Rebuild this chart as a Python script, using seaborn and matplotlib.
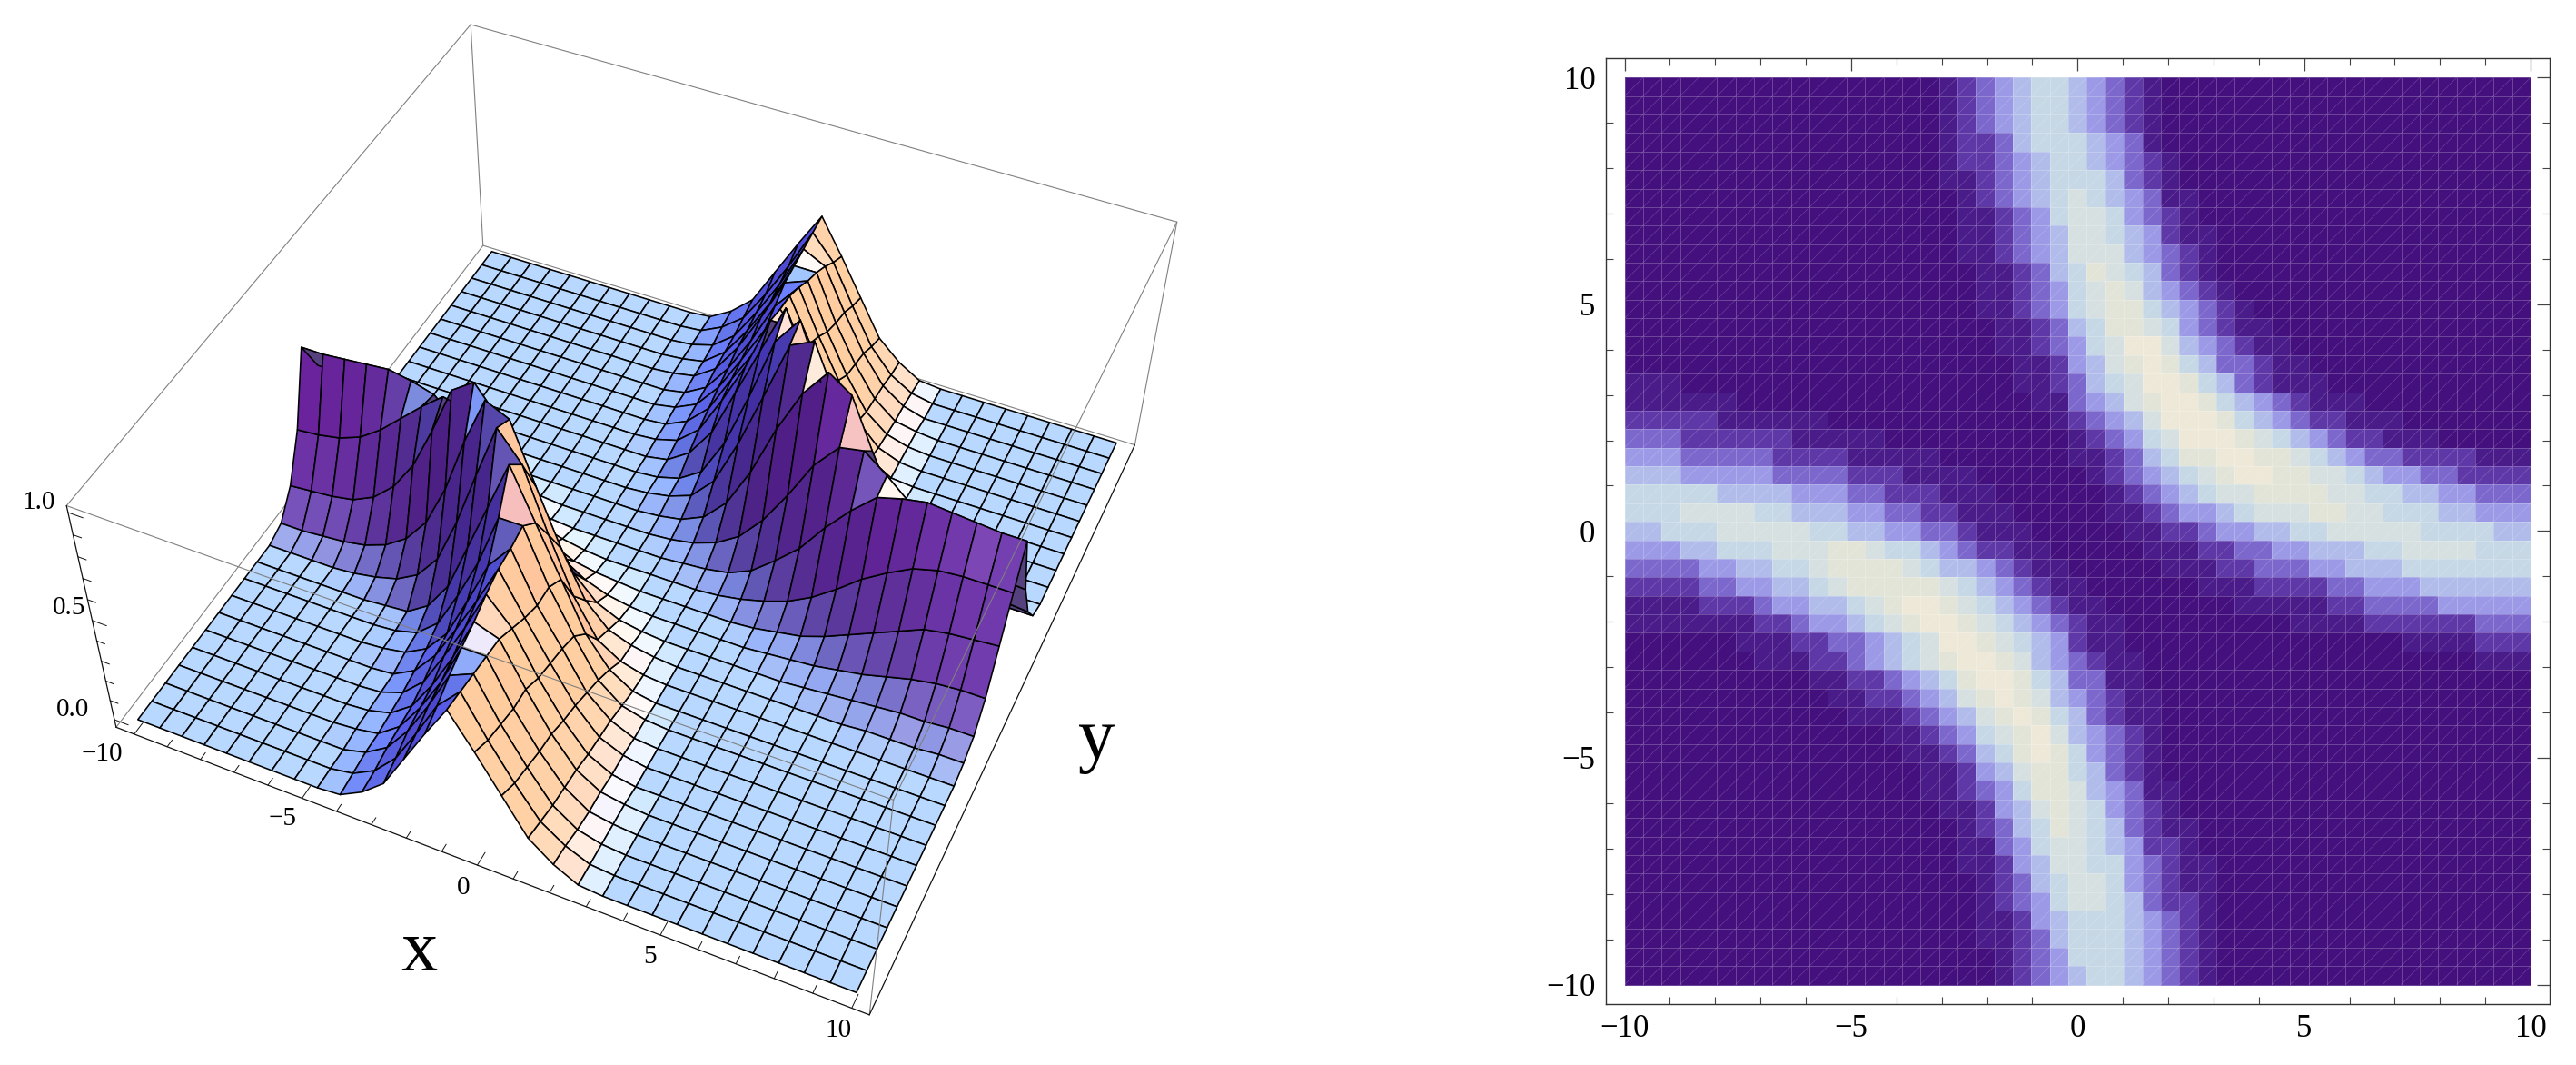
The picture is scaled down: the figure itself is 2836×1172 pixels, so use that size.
import numpy as np
import seaborn as sns
import matplotlib.pyplot as plt
from matplotlib.colors import ListedColormap
from matplotlib.collections import LineCollection
from mpl_toolkits.mplot3d import Axes3D  # noqa

W, H = 2836, 1172

# density plot, one digit per cell, top row is y = 10, left column is x = -10
DENSITY_ROWS = [
    "0000000000 0000000123 4566543210",
    "0000000000 0000000123 4566543210",
    "0000000000 0000000123 4566543210",
    "0000000000 0000000122 3566654310",
    "0000000000 0000000122 3456654321",
    "0000000000 0000000112 3456665321",
    "0000000000 0000000012 3456765431 1",
    "0000000000 0000000011 2346776432 1",
    "0000000000 0000000011 2345776542 11",
    "0000000000 0000000011 2345777543 21",
    "0000000000 0000000001 1235687653 21",
    "0000000000 0000000001 1234678754 321",
    "0000000000 0000000001 1234678865 4321",
    "0000000000 0000000000 1123568876 43211",
    "0000000000 0000000000 1123467997 543211",
    "0000000000 0000000000 0112457898 6533211",
    "1110000000 0000000000 0112356799 8653211100",
    "1111110000 0000000000 0011345789 9865432111",
    "2222211111 1000000000 0001234579 9986543221 11",
    "3332222221 1111000000 0000123467 9998765432 2111",
    "4443333322 2211111000 0000112356 8899887654 332222111",
    "5554444433 3322211110 0000012345 6789988776 544332222",
    "6666655554 4433222111 0000001234 5677888877 665544333",
    "6667777665 5544332211 1000001123 4456777887 766655444",
    "5566677777 6655443321 1100000112 2344556677 777666655",
    "4445566677 7887665432 2110000011 1223344555 667777666",
    "3333445566 7888876554 3211000001 1122333445 556666666",
    "2222334455 6788888765 4321100000 0111222233 444555555",
    "1111222344 5567899876 5432110000 0001111122 333344444",
    "1111111223 4456789987 6543211000 0000001111 222222333",
    "0000001112 2334567998 7654211000 0000000000 001111222",
    "0000000111 2234567899 8754321100 0000000000 000000111",
    "0000000000 1122345689 9865331100",
    "0000000000 0112234578 9875432110",
    "0000000000 0011123457 8986532110",
    "0000000000 0000112346 7897543210",
    "0000000000 0000011235 6898643210",
    "0000000000 0000001124 5788653210",
    "0000000000 0000001123 4688754311",
    "0000000000 0000000112 4578764321",
    "0000000000 0000000012 3568765321 1",
    "0000000000 0000000011 3467765422 1",
    "0000000000 0000000011 2457766432 11",
    "0000000000 0000000001 2356776432 11",
    "0000000000 0000000001 2346776532 21",
    "0000000000 0000000001 1245666543 21",
    "0000000000 0000000001 1235666543 21",
    "0000000000 0000000000 1234666543 21",
    "0000000000 0000000000 1234566543 21",
]
DENSITY_COLORS = ["#44107e", "#4a1c8a", "#5f38a8", "#7c68cc", "#9c9ae6",
                  "#b2bcea", "#c6d8e6", "#d6e0e0", "#e2e4d8", "#eee8d8"]

# surface heights in percent, 31 x 31 mesh, top row is y = 10, trailing zeros left off
SURFACE_PCT = [
    [0,0,0,0,0,0,0,0,0,0,0,1,7,16,33,50,66,50,33,16,7,1],
    [0,0,0,0,0,0,0,0,0,0,0,1,6,14,29,46,65,54,36,19,8,2],
    [0,0,0,0,0,0,0,0,0,0,0,1,4,12,27,44,64,59,40,23,10,3],
    [0,0,0,0,0,0,0,0,0,0,0,1,3,11,25,42,63,63,42,25,11,3,1],
    [0,0,0,0,0,0,0,0,0,0,0,1,3,10,24,42,62,66,45,27,12,4,1],
    [0,0,0,0,0,0,0,0,0,0,0,0,2,8,21,38,58,70,50,32,15,5,1],
    [0,0,0,0,0,0,0,0,0,0,0,0,2,7,19,36,54,73,54,36,19,7,1],
    [0,0,0,0,0,0,0,0,0,0,0,0,1,6,16,34,51,74,62,41,21,9,3,1],
    [0,0,0,0,0,0,0,0,0,0,0,0,1,4,13,31,51,76,76,51,31,13,4,1],
    [0,0,0,0,0,0,0,0,0,0,0,0,0,2,9,23,46,69,92,69,46,23,9,2,1],
    [0,0,0,0,0,0,0,0,0,0,0,0,0,1,4,11,29,55,84,97,72,46,24,12,6,3,1],
    [2,2,1,1,1,0,0,0,0,0,0,0,0,1,3,7,18,40,66,93,98,76,50,30,18,11,7,5,4,3,3],
    [6,6,5,5,4,3,2,1,0,0,0,0,0,0,1,3,8,19,38,62,82,95,88,66,46,32,23,18,16,15,14],
    [16,16,15,13,10,7,5,3,2,1,0,0,0,0,0,1,3,7,14,26,42,60,72,74,66,57,48,41,37,35,34],
    [33,32,31,29,24,19,14,9,5,3,1,0,0,0,0,0,1,2,4,9,18,28,42,54,64,67,69,68,67,66,66],
    [50,50,50,49,46,40,33,24,16,10,6,3,1,0,0,0,0,0,1,3,6,10,16,24,33,40,46,49,50,50,50],
    [66,66,67,68,69,67,64,54,42,28,18,9,4,2,1,0,0,0,0,0,1,3,5,9,14,19,24,29,31,32,33],
    [34,35,37,41,48,57,66,74,72,60,42,26,14,7,3,1,0,0,0,0,0,1,2,3,5,7,10,13,15,16,16],
    [14,15,16,18,23,32,46,66,88,95,82,62,38,19,8,3,1,0,0,0,0,0,0,1,2,3,4,5,5,6,6],
    [3,3,4,5,7,11,18,30,50,76,98,93,66,40,18,7,3,1,0,0,0,0,0,0,0,0,1,1,1,2,2],
    [0,0,0,0,1,3,6,12,24,46,72,97,84,55,29,11,4,1],
    [0,0,0,0,0,0,1,2,9,23,46,69,92,69,46,23,9,2],
    [0,0,0,0,0,0,0,1,4,13,31,51,76,76,51,31,13,4,1],
    [0,0,0,0,0,0,0,1,3,9,21,41,62,74,51,34,16,6,1],
    [0,0,0,0,0,0,0,0,1,7,19,36,54,73,54,36,19,7,2],
    [0,0,0,0,0,0,0,0,1,5,15,32,50,70,58,38,21,8,2],
    [0,0,0,0,0,0,0,0,1,4,12,27,45,66,62,42,24,10,3,1],
    [0,0,0,0,0,0,0,0,1,3,11,25,42,63,63,42,25,11,3,1],
    [0,0,0,0,0,0,0,0,0,3,10,23,40,59,64,44,27,12,4,1],
    [0,0,0,0,0,0,0,0,0,2,8,19,36,54,65,46,29,14,6,1],
    [0,0,0,0,0,0,0,0,0,1,7,16,33,50,66,50,33,16,7,1],
]

X_TICKS = [-10, -5, 0, 5, 10]
Z_TICKS = [0.0, 0.5, 1.0]

# box limits and where its eight corners land on the image
XB = (-10.55, 10.45)
YB = (-10.25, 10.45)
ZB = (-0.04, 1.03)
BOX_PIXELS = {
    (0, 1, 1): (518, 27), (0, 1, 0): (532, 270),
    (0, 0, 1): (73, 557), (0, 0, 0): (128, 800),
    (1, 0, 1): (985, 880), (1, 0, 0): (956, 1117),
    (1, 1, 1): (1295, 244), (1, 1, 0): (1250, 490),
}


def box_point(c):
    return (XB[c[0]], YB[c[1]], ZB[c[2]])


def fit_projection():
    # direct linear transform from the box corners
    S = np.array([[0.1, 0, 0, 0], [0, 0.1, 0, 0], [0, 0, 2, -1], [0, 0, 0, 1]])
    rows = []
    for c, (u, v) in BOX_PIXELS.items():
        p = S @ np.array([*box_point(c), 1.0])
        rows.append([*p, 0, 0, 0, 0, *(-u * p)])
        rows.append([0, 0, 0, 0, *p, *(-v * p)])
    h = np.linalg.svd(np.array(rows))[2][-1].reshape(3, 4) @ S
    if (h @ np.array([0, 0, 0.5, 1]))[2] < 0:
        h = -h
    return h


P = fit_projection()


def surface_colors(x, y, z):
    # flat facets are pale blue, slopes turn peach, violet or purple with the light
    dx = x[1] - x[0]
    dy = y[1] - y[0]
    scale = 9.0
    gx = (z[:-1, 1:] - z[:-1, :-1] + z[1:, 1:] - z[1:, :-1]) / (2 * dx) * scale
    gy = (z[1:, :-1] - z[:-1, :-1] + z[1:, 1:] - z[:-1, 1:]) / (2 * dy) * scale
    n = np.sqrt(gx ** 2 + gy ** 2 + 1)
    nx, ny, nz = -gx / n, -gy / n, 1 / n
    c0 = np.array([160, 104, 169.0])
    ax_ = np.array([92, 71, -37.0])
    ay_ = np.array([60, 97, 32.0])
    az_ = np.array([24, 112, 86.0])
    ny_soft = np.where(ny > 0, 0.4 * ny, ny)
    rgb = c0 + nx[..., None] * ax_ + ny_soft[..., None] * ay_ + nz[..., None] * az_
    # right-hand flanks wash out to white near their foot and go peach higher up
    east = np.clip(nx, 0, 1)
    rgb = rgb + (east * (1 - east) ** 3)[..., None] * np.array([300, 200, 150.0])
    rgb = rgb + (east ** 2 * (1 - east))[..., None] * np.array([150, -140, -110.0])
    # slopes facing the viewer corner go darker and less blue
    south = np.clip(-ny, 0, 1)
    rgb = rgb + (np.clip(-nx, 0, 1) * south)[..., None] * np.array([20, 60, -100.0])
    # where the crest turns over towards the right they go lavender instead of salmon
    rgb = rgb + (east * south)[..., None] * np.array([-10, 80, 120.0])
    rgb = np.clip(rgb, 0, 255) / 255

    # facets seen from below
    xx, yy = np.meshgrid(x, y)
    pts = P @ np.stack([xx, yy, z, np.ones_like(z)], axis=-1)[..., None]
    u = pts[..., 0, 0] / pts[..., 2, 0]
    v = pts[..., 1, 0] / pts[..., 2, 0]
    d1 = (u[1:, 1:] - u[:-1, :-1], v[1:, 1:] - v[:-1, :-1])
    d2 = (u[1:, :-1] - u[:-1, 1:], v[1:, :-1] - v[:-1, 1:])
    area = d1[0] * d2[1] - d1[1] * d2[0]
    ref = np.median(area)
    rgb[np.sign(area) != np.sign(ref)] = np.array([85, 65, 125]) / 255
    return np.dstack([rgb, np.ones(rgb.shape[:2])])


def draw_surface(fig):
    ax = fig.add_axes([0, 0, 1, 1], projection="3d", computed_zorder=False)
    ax.set_axis_off()
    ax.patch.set_visible(False)
    ax.apply_aspect = lambda position=None: None

    def get_proj():
        t = ax.transData.inverted().get_matrix()
        flip = np.array([[1, 0, 0], [0, -1, H], [0, 0, 1.0]])
        g = t @ flip @ P
        return np.array([g[0], g[1], [0, 0, 0, -1.0], g[2]])

    ax.get_proj = get_proj

    z = np.array([r + [0] * (31 - len(r)) for r in SURFACE_PCT]) / 100
    x = np.linspace(-10, 10, 31)
    y = np.linspace(10, -10, 31)
    xx, yy = np.meshgrid(x, y)
    surf = ax.plot_surface(xx, yy, z, rstride=1, cstride=1, shade=False,
                           facecolors=surface_colors(x, y, z), zorder=2)
    surf.set_edgecolor("black")
    surf.set_linewidth(1.15)
    surf.set_clip_on(False)

    def edge(a, b, color="#808080", lw=0.8, zorder=1):
        pa, pb = box_point(a), box_point(b)
        ax.plot(*zip(pa, pb), color=color, lw=lw, zorder=zorder, clip_on=False)

    # back edges sit behind the surface, front ones pass over it
    for a, b in [((0, 1, 1), (0, 1, 0)), ((0, 1, 0), (0, 0, 0)),
                 ((0, 1, 0), (1, 1, 0)), ((0, 1, 1), (0, 0, 1)),
                 ((0, 1, 1), (1, 1, 1)), ((1, 1, 1), (1, 1, 0))]:
        edge(a, b)
    for a, b in [((0, 0, 1), (1, 0, 1)), ((1, 0, 1), (1, 1, 1)), ((1, 0, 1), (1, 0, 0))]:
        edge(a, b, zorder=3)
    for a, b in [((0, 0, 0), (1, 0, 0)), ((1, 0, 0), (1, 1, 0)), ((0, 0, 0), (0, 0, 1))]:
        edge(a, b, color="#111111", lw=0.9, zorder=3)

    for v in range(-10, 11):
        length = 0.42 if v % 5 == 0 else 0.24
        ax.plot([v, v], [YB[0], YB[0] + length], [ZB[0], ZB[0]], color="#111111", lw=0.7, zorder=3, clip_on=False)
    for i in range(11):
        length = 0.42 if i % 5 == 0 else 0.24
        ax.plot([XB[0], XB[0] + length], [YB[0], YB[0]], [i / 10, i / 10], color="#111111", lw=0.7, zorder=3, clip_on=False)

    for label, px in zip(X_TICKS, [(112, 830), (311, 901), (510, 977), (715, 1053), (923, 1134)]):
        fig.text(px[0] / W, 1 - px[1] / H, str(label).replace("-", "\u2212"),
                 fontsize=21, ha="center", va="center")
    for label, px in zip(Z_TICKS, [(80, 781), (76, 669), (43, 553)]):
        fig.text(px[0] / W, 1 - px[1] / H, f"{label:.1f}", fontsize=21, ha="center", va="center")
    fig.text(461 / W, 1 - 1048 / H, "x", fontsize=58, ha="center", va="center")
    fig.text(1207 / W, 1 - 815 / H, "y", fontsize=58, ha="center", va="center")


def draw_density(fig):
    rows = [r.replace(" ", "").ljust(49, "0") for r in DENSITY_ROWS]
    levels = np.array([[int(ch) for ch in r] for r in rows])

    left, right, top, bottom = 1767.6, 2807.0, 64.3, 1104.5
    ax = fig.add_axes([left / W, 1 - bottom / H, (right - left) / W, (bottom - top) / H])
    sns.heatmap(levels, ax=ax, cmap=ListedColormap(DENSITY_COLORS), vmin=-0.5, vmax=9.5,
                cbar=False, xticklabels=False, yticklabels=False,
                linewidths=0.7, linecolor=(1, 1, 1, 0.22))

    # every cell is split along its rising diagonal
    n = levels.shape[0]
    cols, rws = np.meshgrid(np.arange(n), np.arange(n))
    segs = np.stack([np.c_[cols.ravel(), rws.ravel() + 1], np.c_[cols.ravel() + 1, rws.ravel()]], axis=1)
    ax.add_collection(LineCollection(segs, colors=[(1, 1, 1, 0.2)], linewidths=0.5))

    pad = 1.03
    ax.set_xlim(-pad, n + pad)
    ax.set_ylim(n + pad, -pad)

    major = np.array(X_TICKS, dtype=float)
    minor = np.arange(-10, 11)
    to_x = lambda v: (np.asarray(v) + 10) / 20 * n
    to_y = lambda v: (10 - np.asarray(v)) / 20 * n
    labels = [str(v).replace("-", "\u2212") for v in X_TICKS]
    ax.set_xticks(to_x(major), labels=labels, rotation=0)
    ax.set_yticks(to_y(major), labels=labels, rotation=0)
    ax.set_xticks(to_x(minor), minor=True)
    ax.set_yticks(to_y(minor), minor=True)
    ax.tick_params(which="major", direction="in", length=10, width=0.9, color="#444444",
                   top=True, right=True, labelsize=25, pad=8, labelcolor="black")
    ax.tick_params(which="minor", direction="in", length=6, width=0.8, color="#444444",
                   top=True, right=True, bottom=True, left=True)
    for spine in ax.spines.values():
        spine.set_visible(True)
        spine.set_color("#333333")
        spine.set_linewidth(1.0)


sns.set_theme(style="white")
plt.rcParams["font.family"] = ["Liberation Serif", "DejaVu Serif"]
plt.rcParams["text.color"] = "black"

fig = plt.figure(figsize=(W / 100, H / 100), dpi=100)
draw_surface(fig)
draw_density(fig)
fig.savefig("out.png", dpi=100)
